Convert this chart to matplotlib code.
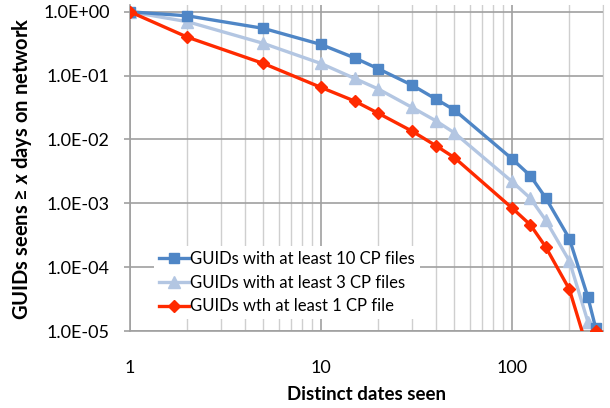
import matplotlib
matplotlib.use("Agg")
import matplotlib.pyplot as plt
from matplotlib.ticker import LogLocator, FixedLocator, NullFormatter, FuncFormatter

plt.rcParams['font.family'] = ['Lato', 'DejaVu Sans']
plt.rcParams['mathtext.fontset'] = 'custom'
plt.rcParams['mathtext.it'] = 'Lato:italic:bold'
plt.rcParams['mathtext.rm'] = 'Lato:bold'

# ---- data ----
days = [1, 2, 5, 10, 15, 20, 30, 40, 50, 100, 125, 150, 200, 250, 275]
at_least_10 = [1.0, 0.865, 0.55, 0.308, 0.19, 0.128, 0.071, 0.043, 0.029,
               0.005, 0.0027, 0.00123, 0.00028, 3.4e-5, 1.1e-5]
at_least_3 = [1.0, 0.70, 0.32, 0.155, 0.0906, 0.0616, 0.0318, 0.0196, 0.0127,
              0.0022, 0.0012, 0.00055, 0.000125, 1.4e-5, 1.0e-5]
at_least_1 = [1.0, 0.40, 0.155, 0.0655, 0.04, 0.0257, 0.0135, 0.008, 0.0052,
              0.00085, 0.00046, 0.00021, 4.5e-5, 5e-6, 1.0e-5]
labels = ["GUIDs with at least 10 CP files",
          "GUIDs with at least 3 CP files",
          "GUIDs wth at least 1 CP file"]
x_ticks = [1, 10, 100]
y_ticks = [1e0, 1e-1, 1e-2, 1e-3, 1e-4, 1e-5]

fig = plt.figure(figsize=(6.1, 4.08), dpi=100)
ax = fig.add_axes([0.2131, 0.1887, 0.7754, 0.798])

c_dark = '#4F86C6'
c_light = '#B3C6E2'
c_red = '#FF2A00'

ax.plot(days, at_least_10, color=c_dark, lw=2.4, marker='s', ms=7.5,
        mec=c_dark, mfc=c_dark, label=labels[0], zorder=5)
ax.plot(days, at_least_3, color=c_light, lw=2.4, marker='^', ms=8,
        mec=c_light, mfc=c_light, label=labels[1], zorder=4)
ax.plot(days, at_least_1, color=c_red, lw=2.4, marker='D', ms=6.5,
        mec=c_red, mfc=c_red, label=labels[2], zorder=6)

ax.set_xscale('log')
ax.set_yscale('log')
ax.set_xlim(1, 300)
ax.set_ylim(1e-5, 10 ** 0.1)

ax.xaxis.set_major_locator(FixedLocator(x_ticks))
ax.xaxis.set_major_formatter(FuncFormatter(lambda v, p: f"{v:g}"))
ax.xaxis.set_minor_locator(LogLocator(base=10, subs=range(2, 10), numticks=20))
ax.xaxis.set_minor_formatter(NullFormatter())
ax.yaxis.set_major_locator(FixedLocator(y_ticks))
ax.yaxis.set_major_formatter(FuncFormatter(lambda v, p: "{:.1E}".format(v)))
ax.yaxis.set_minor_locator(FixedLocator([]))

ax.grid(which='major', axis='both', color='#A0A0A0', lw=1.2, zorder=0)
ax.grid(which='minor', axis='x', color='#CFCFCF', lw=1.0, zorder=0)
ax.set_axisbelow(True)

ax.spines['top'].set_visible(False)
ax.spines['right'].set_color('#CFCFCF')
ax.spines['left'].set_color('#A0A0A0')
ax.spines['bottom'].set_color('#A0A0A0')
ax.spines['left'].set_linewidth(1.2)
ax.spines['bottom'].set_linewidth(1.2)

ax.tick_params(axis='x', which='both', length=0, pad=21, labelsize=13)
ax.tick_params(axis='y', which='major', length=4.5, width=1.2, color='#A0A0A0',
               direction='out', pad=10, labelsize=13)

ax.set_xlabel("Distinct dates seen", fontsize=13.5, fontweight='bold', labelpad=7)
ax.set_ylabel(r"GUIDs seens ≥ $x$ days on network", fontsize=14.5,
              fontweight='bold', labelpad=7)

leg = ax.legend(loc='upper left', bbox_to_anchor=(0.05, 0.262), frameon=True,
                fontsize=12, handlelength=1.85, handletextpad=0.05,
                labelspacing=0.47, borderpad=0.3, borderaxespad=0.0,
                fancybox=False)
leg.get_frame().set_facecolor('white')
leg.get_frame().set_edgecolor('none')
leg.get_frame().set_alpha(1.0)

fig.savefig("out.png", dpi=100)
